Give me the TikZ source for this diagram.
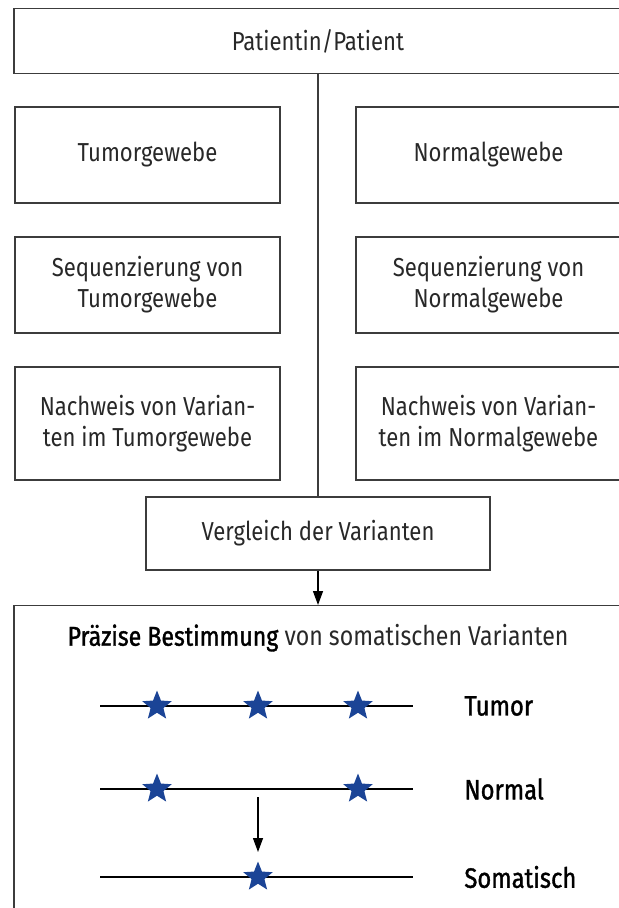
\documentclass[tikz,border=0pt]{standalone}
\usepackage{fontspec}
\setmainfont{Fira Sans}[FakeStretch=0.85]
\newfontfamily\mittel{Fira Sans}[FakeStretch=0.85,FakeBold=1.3]
\usetikzlibrary{shapes.geometric,arrows.meta}
\definecolor{sternblau}{RGB}{27,68,150}
\definecolor{rahmengrau}{RGB}{60,60,60}
\definecolor{textgrau}{RGB}{40,40,40}

\begin{document}
\begin{tikzpicture}[x=0.5pt,y=-0.5pt,
  kasten/.style={draw=rahmengrau,line width=0.65pt,align=center,inner sep=0pt,
    text=textgrau,font=\fontsize{13}{15.5}\selectfont},
  seite/.style={kasten,minimum width=132.5pt,minimum height=48pt},
  stern/.style={star,star points=5,star point ratio=2.3,fill=sternblau,
    minimum size=15.5pt,inner sep=0pt},
  linie/.style={line width=1pt,black},
  marke/.style={anchor=west,inner sep=0pt,font=\fontsize{14}{16}\selectfont\mittel}]
\useasboundingbox (0,0) rectangle (619,908);
\clip (0,0) rectangle (619,908);

% obere Kaesten
\node[kasten,minimum width=304pt,minimum height=32.5pt] (patient) at (318,41) {Patientin/Patient};
\node[seite] (tumorgewebe) at (147.5,155) {Tumorgewebe};
\node[seite] (normalgewebe) at (488.5,155) {Normalgewebe};
\node[seite] (seqtumor) at (147.5,285) {Sequenzierung von\\Tumorgewebe};
\node[seite] (seqnormal) at (488.5,285) {Sequenzierung von\\Normalgewebe};
\node[seite,minimum height=56.5pt] (nwtumor) at (147.5,423.5) {Nachweis von Varian-\\ten im Tumorgewebe};
\node[seite,minimum height=56.5pt] (nwnormal) at (488.5,423.5) {Nachweis von Varian-\\ten im Normalgewebe};
\node[kasten,minimum width=172pt,minimum height=36.5pt] (vergleich) at (318,533.5) {Vergleich der Varianten};
\draw[rahmengrau,line width=0.65pt] (patient.south) -- (vergleich.north);

% unterer Kasten
\node[kasten,minimum width=304pt,minimum height=160pt,anchor=north] (bestimmung) at (318,605) {};
\draw[black,line width=0.65pt,-{Triangle[width=5pt,length=7pt]}] (vergleich.south) -- (bestimmung.north);
\node[text=textgrau,font=\fontsize{13.6}{16}\selectfont] (titel) at (318,638) {{\mittel\color{black}Präzise Bestimmung} von somatischen Varianten};

\foreach \name/\y/\text in {tumor/706/Tumor,normal/789/Normal,somatisch/877/Somatisch} {
  \coordinate (\name-a) at (100,\y);
  \coordinate (\name-b) at (413,\y);
  \draw[linie] (\name-a) -- (\name-b);
  \node[marke] (label-\name) at (464,\y) {\text};
}
\node[stern] (tumor-1) at (157,706) {};
\node[stern] (tumor-2) at (258,706) {};
\node[stern] (tumor-3) at (358,706) {};
\node[stern] (normal-1) at (157,789) {};
\node[stern] (normal-3) at (358,789) {};
\node[stern] (somatisch-2) at (258,877) {};

\coordinate (pfeil-a) at (258,797);
\coordinate (pfeil-b) at (258,852);
\draw[black,line width=0.65pt,-{Triangle[width=5pt,length=7pt]}] (pfeil-a) -- (pfeil-b);
\end{tikzpicture}
\end{document}
